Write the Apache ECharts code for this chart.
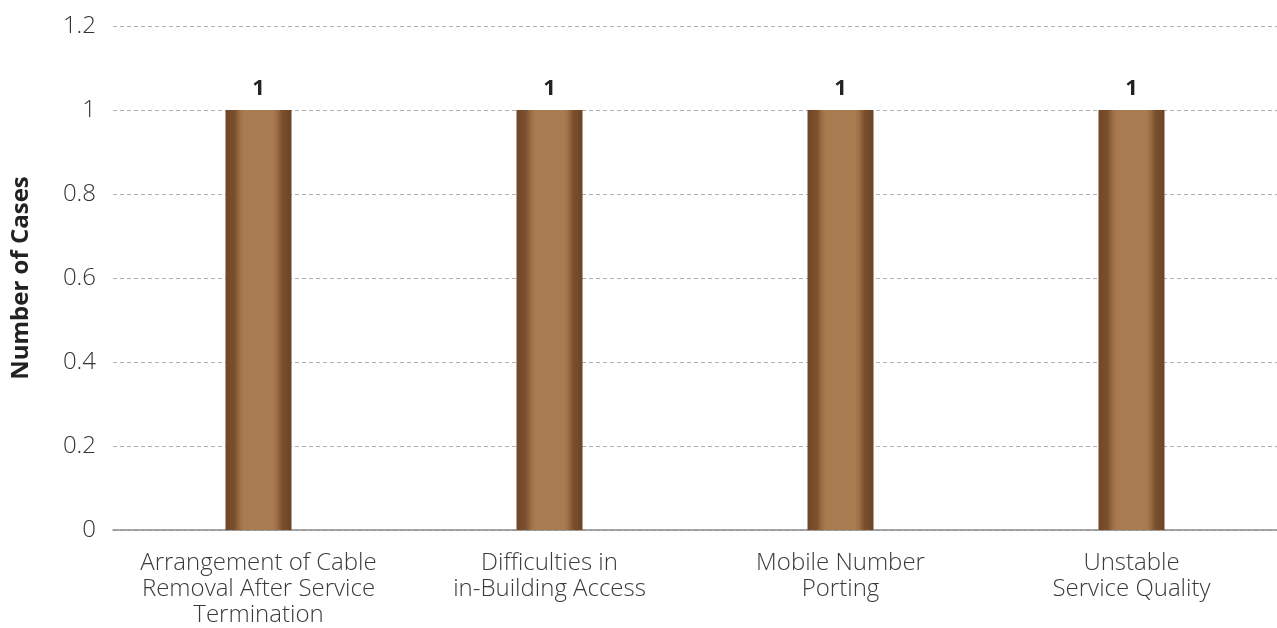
<!DOCTYPE html>
<html>
<head>
<meta charset="utf-8">
<script src="https://cdn.jsdelivr.net/npm/echarts@6/dist/echarts.min.js"></script>
<style>html,body{margin:0;padding:0;background:#fff;}#c{width:1277px;height:628px;}</style>
</head>
<body>
<div id="c"></div>
<script>
const categories = ["Arrangement of Cable\nRemoval After Service\nTermination", "Difficulties in\nin-Building Access", "Mobile Number\nPorting", "Unstable\nService Quality"];
const values = [1, 1, 1, 1];
const yTicks = { min: 0, max: 1.2, interval: 0.2 };
const yTitle = "Number of Cases";

const chart = echarts.init(document.getElementById('c'));
const font = "'Open Sans', 'Noto Sans', sans-serif";
chart.setOption({
  animation: false,
  grid: { left: 113, right: 0, top: 26, bottom: 98, containLabel: false, outerBoundsMode: 'none' },
  xAxis: {
    type: 'category',
    data: categories,
    axisLine: { lineStyle: { color: '#8a8a8a', width: 1.5 } },
    axisTick: { show: false },
    axisLabel: { color: '#3a3a3a', fontSize: 24, fontWeight: 300, fontFamily: font, lineHeight: 26, margin: 20, interval: 0 }
  },
  yAxis: {
    type: 'value',
    min: yTicks.min, max: yTicks.max, interval: yTicks.interval,
    name: yTitle,
    nameLocation: 'middle',
    nameGap: 80,
    nameTextStyle: { color: '#222', fontSize: 24, fontWeight: 'bold', fontFamily: font },
    axisLine: { show: false },
    axisTick: { show: false },
    axisLabel: { color: '#333', fontSize: 24, fontWeight: 300, fontFamily: font, margin: 17,
      formatter: v => String(Math.round(v * 10) / 10) },
    splitLine: { lineStyle: { color: '#b0b0b0', type: [4, 3], width: 1 } }
  },
  series: [{
    type: 'bar',
    data: values,
    barWidth: 66,
    itemStyle: {
      color: new echarts.graphic.LinearGradient(0, 0, 1, 0, [
        { offset: 0, color: '#704628' },
        { offset: 0.14, color: '#7b502d' },
        { offset: 0.22, color: '#9c6f46' },
        { offset: 0.28, color: '#a97b50' },
        { offset: 0.72, color: '#a97b50' },
        { offset: 0.78, color: '#9c6f46' },
        { offset: 0.86, color: '#7b502d' },
        { offset: 1, color: '#6c4325' }
      ])
    },
    label: { show: true, position: 'top', distance: 10, color: '#222', fontSize: 22, fontWeight: 'bold', fontFamily: font }
  }]
});
</script>
</body>
</html>
